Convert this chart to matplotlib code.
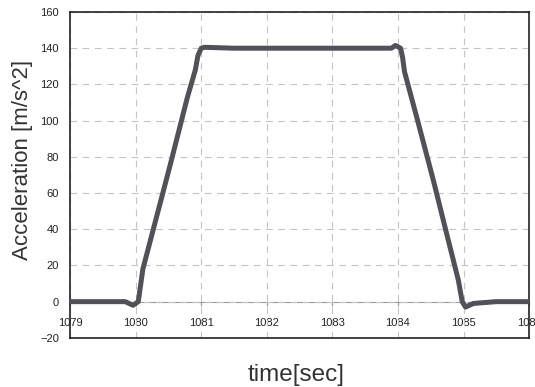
import matplotlib
matplotlib.use("Agg")
import matplotlib.pyplot as plt

# time [sec] and acceleration [m/s^2]
time_s = [1079.0, 1079.5, 1079.84, 1079.96, 1080.04, 1080.11, 1080.53,
          1080.79, 1080.91, 1080.95, 1081.0, 1081.05, 1081.5, 1082.0, 1082.5,
          1083.0, 1083.5, 1083.9, 1083.96, 1084.04, 1084.07, 1084.1, 1084.3, 1084.54,
          1084.76, 1084.92, 1084.98, 1085.03, 1085.15, 1085.5, 1086.0]
accel = [0, 0, 0, -2, 0, 18, 76,
         113, 128, 136, 140, 140.5, 140, 140, 140,
         140, 140, 140, 141.5, 140, 135, 127, 100, 67,
         35, 12, 0, -3, -1, 0, 0]

x_ticks = [1079, 1080, 1081, 1082, 1083, 1084, 1085, 1086]
y_ticks = [-20, 0, 20, 40, 60, 80, 100, 120, 140, 160]

plt.rcParams['font.family'] = ['Liberation Sans', 'DejaVu Sans']

fig = plt.figure(figsize=(5.35, 3.87), dpi=100)
ax = fig.add_axes([0.131, 0.127, 0.858, 0.842])

ax.set_xlim(1079, 1086)
ax.set_ylim(-20, 160)
ax.set_xticks(x_ticks)
ax.set_yticks(y_ticks)
ax.tick_params(axis='x', length=0, labelbottom=False)
ax.tick_params(axis='y', length=0, labelsize=8, pad=8, labelcolor='#222222')
ax.grid(True, linestyle=(0, (6, 5)), color='#c4c4c4', linewidth=0.8)
ax.set_axisbelow(True)
for s in ax.spines.values():
    s.set_color('#222222')
    s.set_linewidth(1.2)

# category axis crosses at zero
sec = ax.secondary_xaxis(20 / 180)
sec.set_xticks(x_ticks)
sec.spines['bottom'].set_color('#999999')
sec.spines['bottom'].set_linewidth(0.8)
sec.tick_params(axis='x', length=3, color='#999999', labelsize=8, labelcolor='#222222', pad=9)

ax.plot(time_s, accel, color='#545057', linewidth=3.6, solid_joinstyle='round',
        solid_capstyle='round', zorder=3)

ax.set_ylabel('Acceleration [m/s^2]', fontsize=16, color='#333333')
ax.yaxis.set_label_coords(-0.08, 0.545)
ax.set_xlabel('time[sec]', fontsize=17.5, color='#333333')
ax.xaxis.set_label_coords(0.493, -0.08)

fig.savefig('out.png', dpi=100)
